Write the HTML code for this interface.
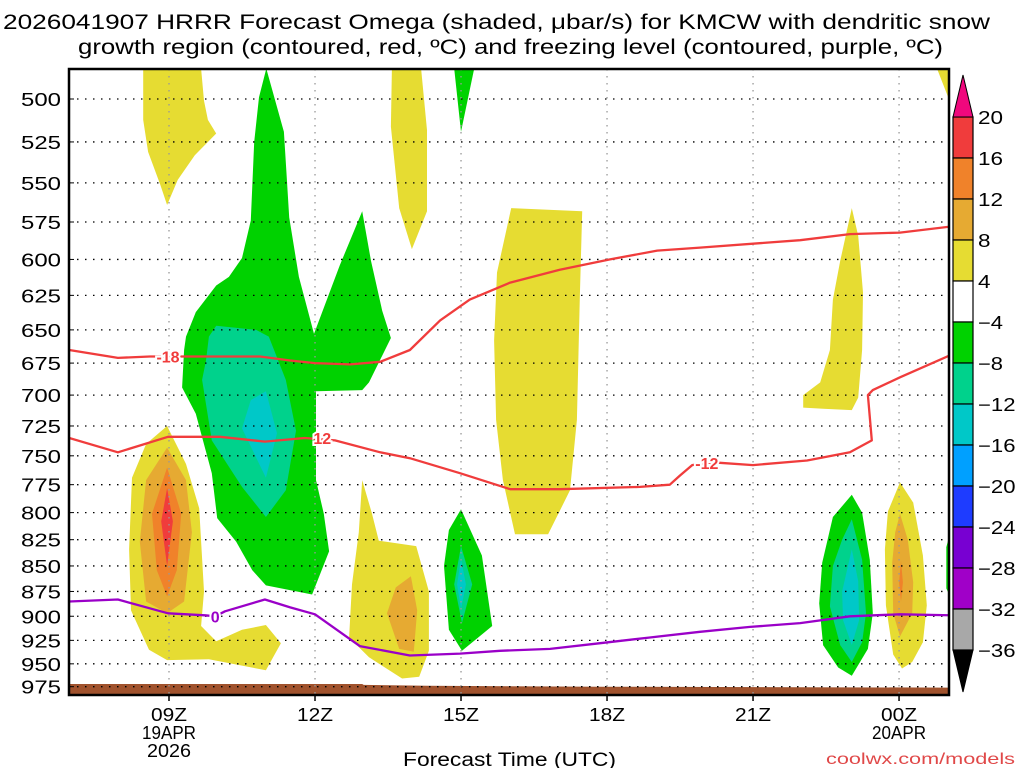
<!DOCTYPE html>
<html><head><meta charset="utf-8"><style>
html,body{margin:0;padding:0;background:#fff;}
svg{display:block;font-family:"Liberation Sans",sans-serif;}
</style></head><body>
<svg id="chart" width="1024" height="768" viewBox="0 0 1024 768" xmlns="http://www.w3.org/2000/svg">
<text x="3" y="29" textLength="987" lengthAdjust="spacingAndGlyphs" font-size="21" fill="#000">2026041907 HRRR Forecast Omega (shaded, μbar/s) for KMCW with dendritic snow</text>
<text x="78" y="54" textLength="865" lengthAdjust="spacingAndGlyphs" font-size="21" fill="#000">growth region (contoured, red, ºC) and freezing level (contoured, purple, ºC)</text>
<g id="fills"></g><g id="grid"></g><g id="lines"></g><g id="axes"></g><g id="cbar"></g>
<text x="403" y="766" textLength="213" lengthAdjust="spacingAndGlyphs" font-size="19" fill="#000">Forecast Time (UTC)</text>
<text x="826" y="764" textLength="189" lengthAdjust="spacingAndGlyphs" font-size="16" fill="#e04848">coolwx.com/models</text>
</svg>
<script>
const hourTicks=[9,12,15,18,21,24];
const hourLabels=["09Z","12Z","15Z","18Z","21Z","00Z"];
const hourSub1={9:"19APR",24:"20APR"};
const hourSub2={9:"2026"};
const pressureTicks=[500,525,550,575,600,625,650,675,700,725,750,775,800,825,850,875,900,925,950,975];
const cbarLevels=[20,16,12,8,4,-4,-8,-12,-16,-20,-24,-28,-32,-36];
const cbarColors=["#f03c3c","#f0822a","#e6aa32","#e6dc32","#ffffff","#00d200","#00d28c","#00c8c8","#00a0ff","#1e3cff","#7800d2","#a000c8","#a8a8a8"];
const yellowTL=[[8.47,483],[9.66,483],[9.72,501],[9.80,512],[9.97,520],[9.53,533],[9.18,548],[8.96,564],[8.82,551],[8.57,531],[8.47,512]];
const greenBig=[[11.0,483],[11.36,519],[11.42,547],[11.47,572],[11.67,612],[11.98,653],[12.51,604],[12.97,568],[13.15,601],[13.38,636],[13.56,656],[13.11,690],[12.97,696],[12.02,697],[12.02,771],[12.18,801],[12.29,836],[11.94,878],[10.99,869],[10.71,854],[10.38,827],[9.99,805],[9.88,765],[9.55,715],[9.27,694],[9.31,665],[9.35,655],[9.55,637],[9.97,618],[10.23,612],[10.50,599],[10.68,574],[10.75,525],[10.85,499]];
const tealBig=[[9.82,655],[9.97,647],[10.79,650],[11.05,655],[11.40,688],[11.61,729],[11.40,780],[10.99,804],[10.50,777],[9.88,737],[9.68,688],[9.76,673]];
const cyanBig=[[10.99,697],[11.22,731],[10.99,769],[10.50,727],[10.68,704]];
const yellow09=[[8.96,725],[9.35,757],[9.62,796],[9.72,875],[9.66,910],[9.97,926],[10.50,914],[10.99,909],[11.30,928],[10.99,957],[9.82,945],[8.96,946],[8.59,935],[8.22,894],[8.18,834],[8.24,769],[8.53,740]];
const lorange09=[[8.96,743],[9.35,771],[9.47,818],[9.31,885],[8.96,897],[8.53,885],[8.40,827],[8.53,771]];
const orange09=[[8.96,760],[9.25,801],[9.16,854],[8.96,880],[8.75,854],[8.65,801]];
const red09=[[8.96,778],[9.08,808],[8.96,850],[8.84,808]];
const yellow14=[[12.97,771],[13.17,801],[13.31,826],[14.08,831],[14.34,875],[14.34,936],[14.14,964],[13.79,966],[13.11,943],[12.70,922],[12.76,868],[12.90,818]];
const lorange14=[[13.97,860],[14.10,894],[14.03,937],[13.73,934],[13.48,897],[13.66,871]];
const green15=[[15.0,797],[15.43,840],[15.64,910],[15.02,936],[14.75,914],[14.65,850],[14.75,816]];
const teal15=[[15.0,831],[15.23,868],[15.02,907],[14.86,868]];
const cyan15=[[15.0,843],[15.1,868],[15.0,893],[14.92,868]];
const greenTop15=[[14.86,483],[15.27,483],[15.0,519]];
const yellowTop14=[[13.58,483],[14.18,483],[14.30,518],[14.30,568],[13.99,593],[13.73,566],[13.56,516]];
const yellow16=[[16.03,566],[17.49,568],[17.44,627],[17.38,720],[17.24,780],[16.79,820],[16.11,820],[15.86,771],[15.72,720],[15.68,658],[15.74,609]];
const yellow23=[[23.03,566],[23.16,584],[23.26,623],[23.24,665],[23.16,702],[23.03,712],[22.44,711],[22.03,710],[22.03,700],[22.38,690],[22.58,665],[22.64,628],[22.79,601]];
const green23=[[23.03,784],[23.24,800],[23.40,844],[23.46,897],[23.36,934],[23.03,963],[22.75,954],[22.44,930],[22.36,887],[22.42,847],[22.64,804]];
const teal23=[[23.03,806],[23.24,844],[23.32,897],[23.24,927],[23.03,948],[22.79,930],[22.58,890],[22.64,850],[22.83,825]];
const cyan23=[[23.03,834],[23.16,865],[23.18,904],[23.03,930],[22.85,904],[22.83,875]];
const yellow00=[[24.02,773],[24.29,791],[24.49,840],[24.57,889],[24.49,927],[24.27,948],[24.06,955],[23.88,940],[23.73,889],[23.71,834],[23.77,799]];
const lorange00=[[24.02,801],[24.18,825],[24.29,866],[24.27,897],[24.02,921],[23.88,897],[23.86,847],[23.92,818]];
const orange00=[[24.04,845],[24.08,866],[24.04,885],[24.0,866]];
const greenEdge=[[25.03,822],[24.97,832],[24.97,872],[25.03,878]];
const yellowTR=[[24.78,483],[25.05,483],[25.05,502]];
const regions=[[3,yellowTL,"yellow-region-09z-top"],[5,greenBig,"green-region-11z"],[6,tealBig,"teal-region-11z"],[7,cyanBig,"cyan-region-11z"],
[3,yellow09,"yellow-region-09z"],[2,lorange09,"lightorange-region-09z"],[1,orange09,"orange-region-09z"],[0,red09,"red-region-09z"],
[3,yellow14,"yellow-region-14z"],[2,lorange14,"lightorange-region-14z"],[5,green15,"green-region-15z"],[6,teal15,"teal-region-15z"],[7,cyan15,"cyan-region-15z"],
[5,greenTop15,"green-region-15z-top"],[3,yellowTop14,"yellow-region-14z-top"],[3,yellow16,"yellow-region-17z"],[3,yellow23,"yellow-region-23z-mid"],
[5,green23,"green-region-23z"],[6,teal23,"teal-region-23z"],[7,cyan23,"cyan-region-23z"],[3,yellow00,"yellow-region-00z"],[2,lorange00,"lightorange-region-00z"],[1,orange00,"orange-region-00z"],
[5,greenEdge,"green-region-right-edge"],[3,yellowTR,"yellow-region-top-right"]];
const minus18Line=[[6.95,665],[7.95,671],[8.61,670],[9.53,670],[10.87,670],[11.49,673],[12.0,675],[12.72,676],[13.34,674],[13.95,665],[14.57,643],[15.18,628],[16.01,616],[17.03,607],[18.06,600],[19.03,594],[19.91,592],[21.97,587],[22.99,583],[24.02,582],[25.05,578]];
const minus12Line=[[6.95,735],[7.95,747],[8.98,734],[10.05,734],[10.97,738],[11.79,735],[12.41,737],[13.34,747],[13.95,752],[14.98,765],[16.01,779],[17.03,779],[18.68,777],[19.29,775],[19.5,767],[19.75,758],[20.01,756],[20.32,756],[21.0,758],[22.11,754],[22.99,747],[23.44,737],[23.36,700],[23.46,696],[24.02,686],[25.05,669]];
const freezingLine=[[6.95,885],[7.95,883],[8.98,897],[9.74,899],[9.95,900],[10.15,895],[10.97,883],[11.49,891],[12.0,898],[12.92,931],[13.95,941],[14.98,939],[15.80,936],[16.83,934],[17.86,928],[18.88,922],[19.91,916],[20.94,911],[21.97,907],[22.99,900],[24.02,898],[25.05,899]];
const lineLabels=[["-18",8.98,670,"#f03c3c"],["12",12.15,735,"#f03c3c"],["-12",20.05,756,"#f03c3c"],["0",9.95,900,"#9a00c8"]];
const surfacePressure=[[6.9,972],[12.97,972],[13.0,973],[14.3,974],[17.9,975],[25.1,976]];

const X0=69,X1=949,Y0=69,Y1=695;
const xs=h=>169+(h-9)*48.67;
const ys=p=>99+880*Math.log(p/500);
const NS="http://www.w3.org/2000/svg";
function mk(tag,attrs,parent){const e=document.createElementNS(NS,tag);for(const k in attrs)e.setAttribute(k,attrs[k]);parent.appendChild(e);return e;}
const svg=document.getElementById('chart');
const defs=mk('defs',{},svg);
const cp=mk('clipPath',{id:'plotclip'},defs);
mk('rect',{x:X0,y:Y0,width:X1-X0,height:Y1-Y0},cp);
const fills=document.getElementById('fills');fills.setAttribute('clip-path','url(#plotclip)');
const pts=a=>a.map(q=>xs(q[0]).toFixed(1)+','+ys(q[1]).toFixed(1)).join(' ');
regions.forEach(r=>{
  const e=mk('polygon',{points:pts(r[1]),fill:cbarColors[r[0]]},fills);
  
  
});
const g=[...surfacePressure.map(q=>[q[0],q[1]]),[25.1,1000],[6.9,1000]];
const ground=mk('polygon',{points:pts(g),fill:'#a0522d'},fills);


const grid=document.getElementById('grid');
pressureTicks.forEach(p=>{
  const y=ys(p);
  const l=mk('line',{x1:X0,x2:X1,y1:y,y2:y,stroke:'#000','stroke-width':1.3,'stroke-dasharray':'1.5 6.5'},grid);
  
  
  const t=mk('text',{x:21,y:y+7,textLength:40,lengthAdjust:'spacingAndGlyphs','font-size':18,fill:'#000'},grid);t.textContent=p;
  
  
  mk('line',{x1:X0,x2:X0+5,y1:y,y2:y,stroke:'#000'},grid);
});
hourTicks.forEach((h,i)=>{
  const x=xs(h);
  const l=mk('line',{x1:x,x2:x,y1:Y0,y2:Y1,stroke:'#999','stroke-width':1.3,'stroke-dasharray':'1.5 5.5'},grid);
  
  
  mk('line',{x1:x,x2:x,y1:Y1,y2:Y1+6,stroke:'#000','stroke-width':1.5},grid);
  const t=mk('text',{x:x-18,y:721,textLength:36,lengthAdjust:'spacingAndGlyphs','font-size':18,fill:'#000'},grid);t.textContent=hourLabels[i];
  
  
  if(hourSub1[h]){const t2=mk('text',{x:x-27,y:739,textLength:54,lengthAdjust:'spacingAndGlyphs','font-size':18,fill:'#000'},grid);t2.textContent=hourSub1[h];
    
    }
  if(hourSub2[h]){const t3=mk('text',{x:x-22,y:757,textLength:44,lengthAdjust:'spacingAndGlyphs','font-size':18,fill:'#000'},grid);t3.textContent=hourSub2[h];
    
    }
});
const lines=document.getElementById('lines');lines.setAttribute('clip-path','url(#plotclip)');
[[minus18Line,'#f03c3c','minus18-isotherm'],[minus12Line,'#f03c3c','minus12-isotherm'],[freezingLine,'#9a00c8','freezing-level-line']].forEach(L=>{
  const e=mk('polyline',{points:pts(L[0]),fill:'none',stroke:L[1],'stroke-width':2.3,'stroke-linejoin':'round'},lines);
  
  
});
lineLabels.forEach(l=>{
  const t=mk('text',{x:xs(l[1]),y:ys(l[2])+6,'text-anchor':'middle','font-size':16,'font-weight':'bold',fill:l[3],stroke:'#fff','stroke-width':4,'paint-order':'stroke'},lines);
  t.textContent=l[0];
  
  
});
const axes=document.getElementById('axes');
const fr=mk('rect',{x:X0,y:Y0,width:X1-X0,height:Y1-Y0,fill:'none',stroke:'#000','stroke-width':2.5},axes);


const cb=document.getElementById('cbar');
const CX=953,CW=20,CT=117,CS=41;
cbarColors.forEach((c,i)=>{
  const r=mk('rect',{x:CX,y:CT+i*CS,width:CW,height:CS,fill:c,stroke:'#000','stroke-width':1.2},cb);
  
  
});
const up=mk('polygon',{points:`${CX},${CT} ${CX+CW},${CT} ${CX+CW/2},${CT-42}`,fill:'#f0087d',stroke:'#000','stroke-width':1},cb);


const cbEnd=CT+cbarColors.length*CS;
const dn=mk('polygon',{points:`${CX},${cbEnd} ${CX+CW},${cbEnd} ${CX+CW/2},${cbEnd+42}`,fill:'#000',stroke:'#000','stroke-width':1},cb);


cbarLevels.forEach((v,i)=>{
  const s=v<0?'\u2212'+(-v):String(v);
  const t=mk('text',{x:978,y:CT+i*CS+7,textLength:s.length*12.5,lengthAdjust:'spacingAndGlyphs','font-size':18,fill:'#000'},cb);
  t.textContent=s;
  
  
});
</script>
</body></html>
